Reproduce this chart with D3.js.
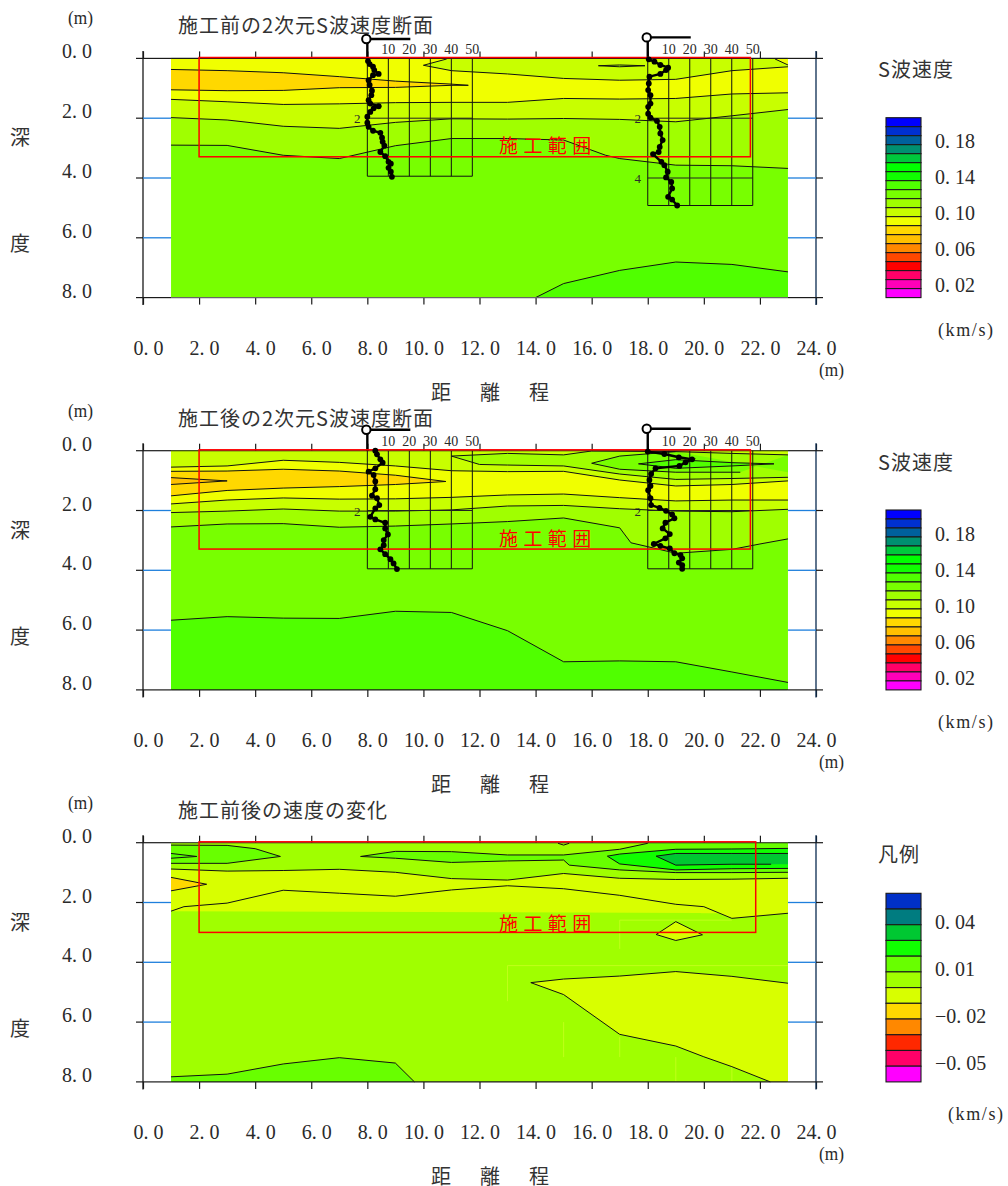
<!DOCTYPE html>
<html><head><meta charset="utf-8">
<script src="https://cdn.jsdelivr.net/npm/d3@7"></script>
<style>
html,body{margin:0;padding:0;background:#fff}
svg{display:block}
.num{font-family:"Liberation Serif",serif;fill:#2a2a2a}
.jp{font-family:"Noto Sans CJK JP",sans-serif;fill:#333}
</style></head><body>
<svg id="c" width="1008" height="1186"></svg>
<script>
// ---------- categories / tick labels ----------
const xTicks=[0,2,4,6,8,10,12,14,16,18,20,22,24];
const yTicks=[0,2,4,6,8];
const titles=["施工前の2次元S波速度断面","施工後の2次元S波速度断面","施工前後の速度の変化"];
const legendTitles=["S波速度","S波速度","凡例"];
const logTicks=[10,20,30,40,50];
// ---------- legend ----------
const paletteVelocity=["#0000ff","#0030d0","#00609c","#009070","#00c83c","#00ff00","#10ff00","#50ff00","#78ff00","#a0ff00","#c8ff00","#f0ff00","#ffd800","#ffc000","#ff8800","#ff4800","#ff0000","#ff0068","#ff00b8","#ff00ff"];
const paletteChange=["#0030c8","#007c80","#00c832","#10ff00","#68ff00","#a0ff00","#d8ff00","#ffd800","#ff8800","#ff2800","#ff0068","#ff00ff"];
const legendVelocity=[0.18,0.14,0.10,0.06,0.02];
const legendChange=[0.04,0.01,-0.02,-0.05];
// ---------- panel 1: contour lines as [distance, depth] ----------
const b_L5=[[14,8],[15,7.53],[17,7.09],[19,6.81],[21,6.89],[23,7.14]];
const b_L4=[[1,2.90],[3,2.91],[5,3.24],[7,3.35],[9,2.92],[11,2.68],[13,2.68],[15,2.73],[16.5,3.24],[17,3.35],[19,3.57],[21,3.59],[23,3.68]];
const b_L3=[[1,1.98],[3,2.06],[5,2.27],[7,2.34],[9,2.14],[11,2.02],[13,2.03],[15,2.01],[17,2.04],[19,2.12],[21,1.92],[23,1.71]];
const b_L2=[[1,1.37],[3,1.45],[5,1.54],[7,1.52],[9,1.48],[11,1.47],[13,1.47],[15,1.34],[17,1.36],[19,1.34],[21,1.19],[23,1.15]];
const b_orange=[[1,.37],[3,.41],[5,.48],[7,.61],[9,.76],[11,.86],[11.6,.90],[11,.90],[9,.97],[7,.98],[5,1.07],[3,1.08],[1,1.05]];
const b_topRight=[[23,.28],[21,.41],[19,.70],[17,.73],[15,.67],[13,.52],[11,.41],[10,.23],[10.83,.02]];
const b_smallLens=[[16.24,.245],[17,.22],[17.9,.245],[17,.28]];
const b_corner=[[22.54,.02],[23,.22]];
const b_logA=[[.3,.09],[1.1,.19],[2.7,.28],[3.3,.39],[5.4,.52],[2.7,.56],[.6,.73],[1.1,.89],[2.2,1.08],[1.9,1.23],[.6,1.40],[1.4,1.51],[5.4,1.60],[3.0,1.67],[1.4,1.79],[0,1.95],[0,2.15],[.6,2.29],[2.7,2.42],[6.2,2.49],[7,2.65],[7.3,2.79],[8.1,2.92],[6.2,3.13],[8.5,3.27],[10.1,3.46],[11.2,3.52],[10.1,3.66],[11.2,3.79],[11.7,3.96]];
const b_logB=[[.5,.03],[3.2,.11],[6,.22],[9.7,.31],[8.7,.39],[6,.52],[.8,.61],[.5,.84],[.2,1.06],[1.3,1.23],[1.3,1.51],[.2,1.62],[.2,1.85],[1.3,1.98],[4.4,2.09],[5.7,2.29],[6,2.51],[7.1,2.73],[5.7,2.96],[5.2,3.13],[2.5,3.20],[6.5,3.46],[7.9,3.57],[9.5,3.79],[8.7,3.98],[11.2,4.13],[11.6,4.35],[9.7,4.63],[11.6,4.72],[14,4.92]];
// ---------- panel 2 ----------
const a_deep=[[1,5.67],[3,5.55],[5,5.6],[7,5.61],[9,5.37],[11,5.41],[13,6.02],[15,7.06],[17,7.03],[19,7.06],[21,7.40],[23,7.75]];
const a_L4=[[1,2.55],[3,2.45],[5,2.44],[7,2.56],[9,2.52],[11,2.45],[13,2.37],[15,2.25],[17,2.58],[17.4,3.08],[18,3.21],[19,3.43],[21,3.30],[22,3.12],[23,2.95]];
const a_L3=[[1,2.07],[3,2.02],[5,1.95],[7,2.02],[9,2.02],[11,1.98],[13,1.85],[15,1.83],[17,1.94],[19,2.02],[21,2.04],[23,1.96]];
const a_L2=[[1,1.78],[3,1.65],[5,1.58],[7,1.62],[9,1.61],[11,1.56],[13,1.48],[15,1.45],[17,1.57],[19,1.68],[21,1.65],[23,1.65]];
const a_L1=[[1,.55],[3,.51],[5,.32],[7,.39],[9,.51],[11,.67],[13,.70],[15,.69],[17,.98],[19,1.18],[21,1.13],[23,1.01]];
const a_orange=[[1,.69],[3,.68],[5,.62],[7,.68],[9,.82],[10.8,1.03],[9,1.13],[7,1.20],[5,1.25],[3,1.33],[1,1.51]];
const a_orangeCore=[[1,.90],[3,1.01],[1,1.13]];
const a_lensOuter=[[23,.14],[21,.09],[19,.03],[16,.01],[15,.14],[13,.09],[11,.18],[12,.46],[13,.48],[15,.51],[17,.78],[19,.96],[21,.93],[23,.89]];
const a_lensMid=[[21.3,.72],[19,.72],[17,.62],[16,.42],[17,.18],[19,.03]];
const a_lensCore=[[17.67,.44],[19,.30],[21,.40],[22.5,.44],[21,.51],[19,.59]];
const a_logA=[[3.8,0],[4.6,.12],[6.2,.29],[7.3,.40],[3.8,.59],[.6,.70],[3,.81],[3.8,1.03],[3.8,1.29],[2.2,1.50],[4.6,1.59],[5.7,1.82],[3.8,1.93],[1.4,2.21],[3.8,2.30],[8.5,2.41],[8.5,2.60],[9.8,2.80],[7.8,2.99],[7.8,3.16],[6.2,3.30],[8.5,3.46],[11,3.63],[12.5,3.77],[14.1,3.96]];
const a_logB=[[0,.03],[7.9,.11],[14.8,.22],[21.1,.29],[18,.39],[15.1,.51],[3.7,.59],[1.6,.78],[.8,.98],[1.3,1.18],[.2,1.32],[1.3,1.59],[1.6,1.82],[5.6,1.91],[8.7,2.01],[11.6,2.13],[12.7,2.26],[8.4,2.41],[7.1,2.60],[10.5,2.79],[8.4,2.93],[2.9,3.12],[6,3.18],[10.5,3.27],[12.7,3.43],[15.6,3.49],[16.4,3.60],[14.8,3.74],[16.4,3.83],[16.4,3.95]];
// ---------- panel 3 ----------
const d_bottomLens=[[1,7.83],[3,7.74],[5,7.40],[7,7.19],[9,7.37],[9.68,8]];
const d_band=[[1,.88],[3,.95],[5,.93],[7,.89],[9,.99],[11,1.20],[13,1.25],[15,1.03],[17,1.19],[19,1.23],[21,1.22],[23,1.19]];
const d_bandLow=[[1,2.29],[1.46,2.14],[3,2.02],[5,1.59],[7,1.69],[9,1.79],[11,1.58],[13,1.44],[15,1.54],[17,1.76],[19,2.06],[20,2.14],[21,2.53],[23,2.36]];
const d_orange=[[1,1.16],[2.27,1.39],[1,1.61]];
const d_topLeft=[[1,.08],[3,.09],[4,.20],[4.9,.46],[3,.69],[1,.69]];
const d_topLeftCore=[[1,.36],[1.92,.46],[1,.52]];
const d_lens2=[[18,.02],[17,.22],[15,.41],[13,.41],[11,.30],[9,.29],[7.76,.46],[9,.52],[11,.66],[13,.61],[15,.58],[15.2,.75],[17,.91],[19,1.0],[21,1.0],[23,.99]];
const d_lens3=[[23,.19],[21,.21],[19,.22],[17,.38],[16.56,.45],[17,.71],[19,.91],[21,.87],[23,.86]];
const d_lens4=[[23,.36],[21,.36],[19,.36],[18.3,.45],[19,.75],[21,.72],[22.4,.72]];
const d_tiny=[[14.8,.02],[15,.08],[15.2,.02]];
const d_diamond=[[18.3,3.07],[19,2.64],[19.95,3.08],[19,3.27]];
const d_yellow=[[23,4.70],[21,4.47],[19,4.31],[17,4.46],[15,4.56],[13.83,4.68],[15,5.08],[17,6.41],[19,6.80],[20,7.16],[21,7.49],[22.37,8]];
const d_faint=[[[17,2.59],[21,2.59]],[[17,2.59],[17,3.55]],[[13,4.11],[23,4.11]],[[13,4.11],[13,5.3]],[[15,6],[15,7.17]],[[17,6.5],[17,7.17]],[[19,7.17],[19,8]],[[21,7.5],[21,8]]];

const svg=d3.select("#c");
const RED="#ff0000",BLUE="#1e7fdc",DARK="#1a1a1a";
const x=d3.scaleLinear().domain([0,24]).range([143,816]);
const yFor=y0=>d3.scaleLinear().domain([0,8]).range([y0,y0+239.2]);
const V=paletteVelocity;
const C=n=>paletteVelocity[n];
const panels=[
 {y0:58.4,base:C(8),rectBottom:3.29,rectRight:21.66,redDy:94.3,legend:paletteVelocity,legVals:legendVelocity,legDom:[0.18,0.02],legRange:[140.2,284.2],legTop:117.7,kmX:938,kmW:55,
  layers:[
   {color:C(7),line:b_L5,close:[[23,8]]},
   {color:C(9),line:b_L4,close:[[23,0],[1,0]]},
   {color:C(10),line:b_L3,close:[[23,0],[1,0]]},
   {color:C(11),line:b_L2,close:[[23,0],[1,0]]},
   {color:C(12),line:b_orange,close:[]},
   {color:C(10),line:b_topRight,close:[[10.83,0],[23,0]]},
   {color:C(9),line:b_smallLens},
   {color:C(11),line:b_corner,close:[[23,0],[22.54,0]]}],
  logs:[{x0:8,bottom:3.94,data:b_logA,poleDy:19.4,depthTicks:[2]},{x0:18,bottom:4.92,data:b_logB,poleDy:21,depthTicks:[2,4]}]},
 {y0:450.7,base:C(8),rectBottom:3.29,rectRight:21.66,redDy:95,legend:paletteVelocity,legVals:legendVelocity,legDom:[0.18,0.02],legRange:[533,677],legTop:510,kmX:938,kmW:55,
  layers:[
   {color:C(7),line:a_deep,close:[[23,8],[1,8]]},
   {color:C(9),line:a_L4,close:[[23,0],[1,0]]},
   {color:C(10),line:a_L3,close:[[23,0],[1,0]]},
   {color:C(11),line:a_L2,close:[[23,0],[1,0]]},
   {color:C(10),line:a_L1,close:[[23,0],[1,0]]},
   {color:C(12),line:a_orange,close:[]},
   {color:C(13),line:a_orangeCore,close:[]},
   {color:C(9),line:a_lensOuter,close:[]},
   {color:C(8),line:a_lensMid,close:[[23,.72],[23,.14]]},
   {color:C(7),line:a_lensCore}],
  logs:[{x0:8,bottom:3.95,data:a_logA,poleDy:21,depthTicks:[2]},{x0:18,bottom:3.95,data:a_logB,poleDy:22,depthTicks:[2]}]},
 {y0:842.7,base:paletteChange[5],rectBottom:3.0,rectRight:21.85,redDy:88,legend:paletteChange,legVals:legendChange,legDom:[0.04,-0.05],legRange:[921.3,1062],legTop:893.3,kmX:948,kmW:55,
  faint:d_faint,
  layers:[
   {color:paletteChange[4],line:d_bottomLens,close:[[1,8]]},
   {color:paletteChange[6],line:d_band,close:d_bandLow.slice().reverse().map(d=>d)},
   {color:paletteChange[6],line:d_bandLow,close:[]},
   {color:paletteChange[7],line:d_orange,close:[]},
   {color:paletteChange[4],line:d_topLeft,close:[]},
   {color:"#50ff00",line:d_topLeftCore,close:[]},
   {color:paletteChange[4],line:d_lens2,close:[[23,0],[18,0]]},
   {color:paletteChange[3],line:d_lens3,close:[]},
   {color:paletteChange[2],line:d_lens4,close:[[23,.72]]},
   {color:paletteChange[5],line:d_tiny,close:[]},
   {color:paletteChange[6],line:d_diamond},
   {color:paletteChange[6],line:d_yellow,close:[[23,8]]}],
  logs:[]}
];
const fmt=v=>{const s=Math.abs(v).toFixed(Math.abs(v)<0.995&&Math.abs(v)>0&&Math.abs(v)<0.5?2:1).replace(".",". ");return (v<0?"\u2212":"")+s;};

panels.forEach((p,pi)=>{
 const y=yFor(p.y0), y8=y(8);
 const g=svg.append("g");
 const line=d3.line().x(d=>x(d[0])).y(d=>y(d[1]));
 // fields
 g.append("rect").attr("x",x(1)).attr("y",y(0)).attr("width",x(23)-x(1)).attr("height",y(8)-y(0)).attr("fill",p.base);
 p.layers.forEach(l=>{
  const poly=l.close?l.line.concat(l.close):l.line;
  g.append("path").attr("d",line(poly)+"Z").attr("fill",l.color);
 });
 (p.faint||[]).forEach(f=>g.append("path").attr("d",line(f)).attr("fill","none").attr("stroke","#c8ff20").attr("stroke-width",.8));
 p.layers.forEach(l=>{
  g.append("path").attr("d",line(l.line)+(l.close?"":"Z")).attr("fill","none").attr("stroke","#111").attr("stroke-width",1);
 });
 // axes
 const axT=d3.axisTop(x).tickValues(xTicks).tickSize(7).tickFormat("");
 const axB=d3.axisBottom(x).tickValues(xTicks).tickSize(7).tickPadding(36).tickFormat(d=>fmt(d));
 const gt=g.append("g").attr("transform",`translate(0,${y(0)})`).call(axT);
 const gb=g.append("g").attr("transform",`translate(0,${y8})`).call(axB);
 gt.select(".domain").remove();gb.select(".domain").remove();
 gb.selectAll("text").attr("class","num").attr("font-size",20).attr("text-anchor","end").attr("dx",20);
 g.selectAll(".tick line").attr("stroke",DARK).attr("stroke-width",1.2);
 [0,24].forEach(v=>g.append("line").attr("x1",x(v)).attr("x2",x(v)).attr("y1",y(0)-7.5).attr("y2",y8+7.5).attr("stroke",v?"#0a2a50":DARK).attr("stroke-width",1.3));
 yTicks.forEach(d=>{
  const edge=d===0||d===8;
  [[x(0),x(1)],[x(23),x(24)]].forEach(s=>g.append("line").attr("x1",s[0]).attr("x2",s[1]).attr("y1",y(d)).attr("y2",y(d)).attr("stroke",edge?DARK:BLUE).attr("stroke-width",edge?1.2:1.3));
  [[136,x(0)],[x(24),823]].forEach(s=>g.append("line").attr("x1",s[0]).attr("x2",s[1]).attr("y1",y(d)).attr("y2",y(d)).attr("stroke",DARK).attr("stroke-width",1.2));
  if(edge) g.append("line").attr("x1",x(1)).attr("x2",x(23)).attr("y1",y(d)).attr("y2",y(d)).attr("stroke",pi===0&&d===8?"#666":DARK).attr("stroke-width",1.1);
  g.append("text").attr("class","num").attr("font-size",20).attr("x",62).attr("y",y(d)).text(fmt(d));
 });
 // labels
 const t=(cls,size,xx,yy,s,extra)=>{const e=g.append("text").attr("class",cls).attr("font-size",size).attr("x",xx).attr("y",yy).text(s);if(extra)extra(e);return e;};
 t("num",18,68,p.y0-34,"(m)",e=>e.attr("textLength",25).attr("lengthAdjust","spacingAndGlyphs"));
 t("num",18,819,y8+78,"(m)",e=>e.attr("textLength",25).attr("lengthAdjust","spacingAndGlyphs"));
 t("jp",20,178,p.y0-25,titles[pi],e=>e.attr("letter-spacing",1));
 t("jp",20,10,p.y0+87,"深");t("jp",20,10,p.y0+193,"度");
 t("jp",20,431,y8+102,"距");t("jp",20,480,y8+102,"離");t("jp",20,529,y8+102,"程");
 t("jp",20,878,p.y0+19,legendTitles[pi],e=>e.attr("letter-spacing",1));
 t("num",18,p.kmX,y8+38,"(km/s)",e=>e.attr("textLength",p.kmW).attr("lengthAdjust","spacing"));
 // logs
 p.logs.forEach(L=>{
  const px0=x(L.x0), n=d3.scaleLinear().domain([0,50]).range([px0,px0+105]);
  const lg=g.append("g");
  logTicks.concat([0]).forEach(v=>lg.append("line").attr("x1",n(v)).attr("x2",n(v)).attr("y1",y(0)).attr("y2",y(L.bottom)).attr("stroke","#111").attr("stroke-width",1));
  lg.append("line").attr("x1",n(0)).attr("x2",n(50)).attr("y1",y(L.bottom)).attr("y2",y(L.bottom)).attr("stroke","#111").attr("stroke-width",1);
  L.depthTicks.forEach(dp=>{
   lg.append("line").attr("x1",n(0)).attr("x2",n(50)).attr("y1",y(dp)).attr("y2",y(dp)).attr("stroke","#222").attr("stroke-width",1);
   lg.append("text").attr("class","num").attr("font-size",13).attr("text-anchor","middle").attr("x",n(0)-10).attr("y",y(dp)+5).text(dp);
  });
  logTicks.forEach(v=>lg.append("text").attr("class","num").attr("font-size",14).attr("text-anchor","middle").attr("x",n(v)).attr("y",y(0)-4.5).text(v));
  const py=p.y0-L.poleDy;
  lg.append("line").attr("x1",n(0)).attr("x2",n(0)).attr("y1",py).attr("y2",y(0)).attr("stroke","#000").attr("stroke-width",2.4);
  lg.append("line").attr("x1",n(0)).attr("x2",n(0)+43).attr("y1",py).attr("y2",py).attr("stroke","#000").attr("stroke-width",2.4);
  lg.append("circle").attr("cx",n(0)-1).attr("cy",py).attr("r",4.2).attr("fill","#fff").attr("stroke","#000").attr("stroke-width",2);
  L.node={n,y};
 });
 // construction range
 g.append("rect").attr("x",x(2)).attr("y",y(-0.03)).attr("width",x(p.rectRight)-x(2)).attr("height",y(p.rectBottom)-y(-0.03)).attr("fill","none").attr("stroke",RED).attr("stroke-width",1.5);
 ["施","工","範","囲"].forEach((c,i)=>g.append("text").attr("font-family",'"Noto Sans CJK JP",sans-serif').attr("font-size",19).attr("fill",RED).attr("x",499+i*24.4).attr("y",p.y0+p.redDy).text(c));
 // log traces above the range frame
 p.logs.forEach(L=>{
  const {n,y:yy}=L.node;
  const lg=g.append("g");
  lg.append("path").attr("d",d3.line().x(d=>n(d[0])).y(d=>yy(d[1]))(L.data)).attr("fill","none").attr("stroke","#000").attr("stroke-width",2.4);
  lg.selectAll("circle").data(L.data).join("circle").attr("cx",d=>n(d[0])).attr("cy",d=>yy(d[1])).attr("r",2.9).attr("fill","#000");
 });
 // legend
 const band=d3.scaleBand().domain(d3.range(p.legend.length)).range([p.legTop,y8]);
 const lg=g.append("g");
 lg.selectAll("rect").data(p.legend).join("rect").attr("x",886).attr("width",35).attr("y",(d,i)=>band(i)).attr("height",band.bandwidth()).attr("fill",d=>d).attr("stroke","#1a1a1a").attr("stroke-width",1.1);
 const ls=d3.scaleLinear().domain(p.legDom).range(p.legRange);
 p.legVals.forEach(v=>{
  lg.append("text").attr("class","num").attr("font-size",20).attr("x",v<0?935:935).attr("y",ls(v)+8).text(fmt(v));
 });
});
</script></body></html>
